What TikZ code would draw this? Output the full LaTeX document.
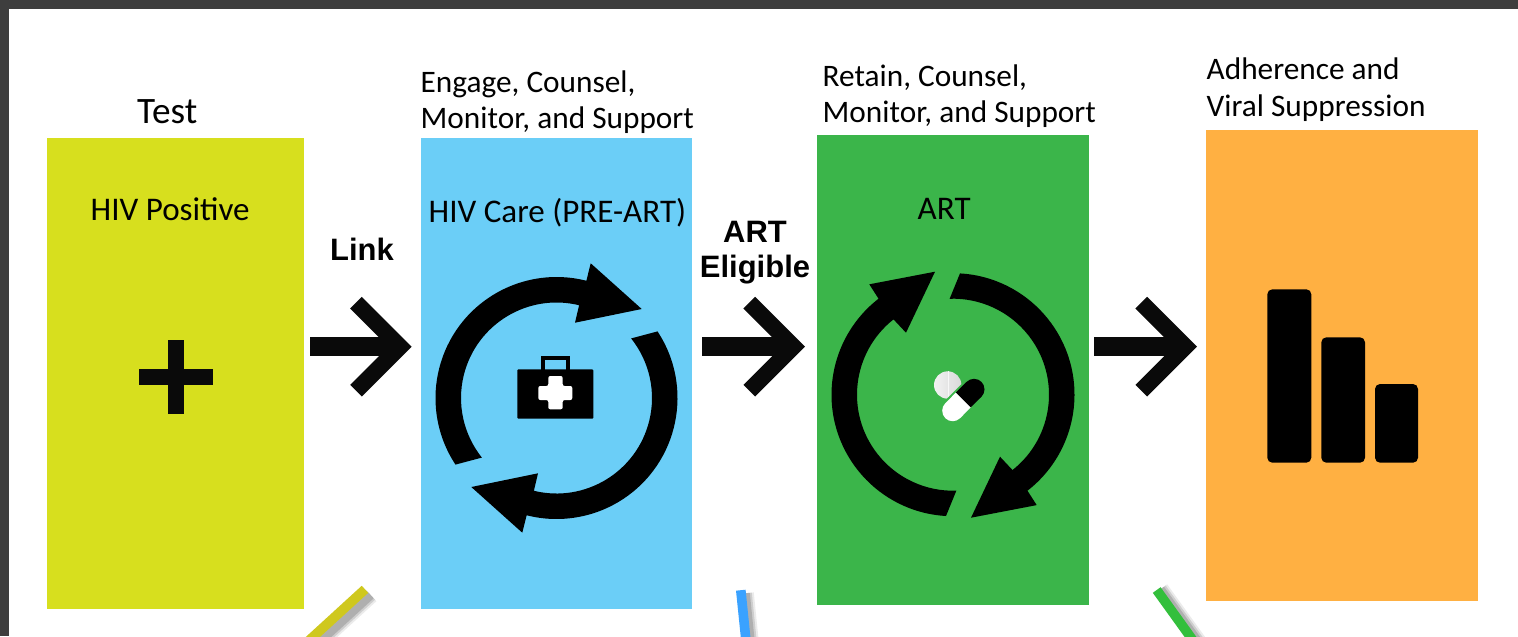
\documentclass[tikz,border=0pt]{standalone}
\usepackage{fontspec}
\setmainfont{Carlito}
\newfontfamily\boldfont{Liberation Sans}[BoldFont={Liberation Sans Bold}]
\usepackage{xcolor}
\usepackage{tikz}
\usetikzlibrary{arrows,arrows.meta,positioning,calc}

\definecolor{limebox}{HTML}{D7DF1E}
\definecolor{bluebox}{HTML}{6BCEF7}
\definecolor{greenbox}{HTML}{3BB54A}
\definecolor{orangebox}{HTML}{FFB042}
\definecolor{framegray}{HTML}{3E3E3E}
\definecolor{inkblack}{HTML}{0A0A0A}
\definecolor{stubyellow}{HTML}{CFC81E}
\definecolor{stubblue}{HTML}{3AA2FF}
\definecolor{stubgreen}{HTML}{33BF3C}

\tikzset{
    stagebox/.style={anchor=north west, inner sep=0, outer sep=0, minimum width=#1},
    title/.style={anchor=base west, inner sep=0, font=\fontsize{8.9}{10.2}\selectfont},
    boxname/.style={anchor=base west, inner sep=0, font=\fontsize{9.4}{10.2}\selectfont},
    steplabel/.style={align=center, inner sep=0, font=\boldfont\bfseries\fontsize{8.8}{10}\selectfont},
    linkarrow/.style={draw=inkblack, line width=.19cm,
        -{Straight Barb[line width=.165cm, length=.44cm, width=.88cm]}},
    stub/.style={line width=.096cm},
    careloop/.pic={
        \fill (213.4:121) arc[start angle=213.4, end angle=75.7, radius=121]
            -- (34.2,134.7) -- (85.2,89) -- (18.5,75.3)
            -- (76.3:95.5) arc[start angle=76.3, end angle=218.6, radius=95.5] -- cycle;
    },
    artloop/.pic={
        \fill (266.7:121.5) arc[start angle=266.7, end angle=127.8, radius=121.5]
            -- (-83.7,110.4) -- (-18,123) -- (-47,62)
            -- (128.3:96) arc[start angle=128.3, end angle=272, radius=96] -- cycle;
    }
}

\begin{document}
\begin{tikzpicture}[x=.01cm, y=-.01cm]
\useasboundingbox (0,0) rectangle (1518,636);
\clip (0,0) rectangle (1518,636);
\fill[framegray] (0,0) rectangle (1518,636);
\fill[white] (9,9) rectangle (1518,640);

% boxes
\node (test) [stagebox=2.57cm, minimum height=4.71cm, fill=limebox] at (47,138) {};
\node (care) [stagebox=2.71cm, minimum height=4.71cm, fill=bluebox] at (421,138) {};
\node (art) [stagebox=2.72cm, minimum height=4.70cm, fill=greenbox] at (817,135) {};
\node (supp) [stagebox=2.72cm, minimum height=4.71cm, fill=orangebox] at (1206,130) {};

% titles
\node (testtitle) [title, font=\fontsize{10.6}{12}\selectfont] at (136.5,123) {Test};
\node (caretop) [title] at (420,92) {Engage, Counsel,};
\node (carebot) [title] at (420,128) {Monitor, and Support};
\node (arttop) [title] at (822,86) {Retain, Counsel,};
\node (artbot) [title] at (822,122) {Monitor, and Support};
\node (supptop) [title] at (1206,79) {Adherence and};
\node (suppbot) [title] at (1206,116) {Viral Suppression};
\node (testname) [boxname] at (90,220) {HIV Positive};
\node (carename) [boxname] at (428,222) {HIV Care (PRE-ART)};
\node (artname) [boxname] at (917,219) {ART};

% links
\coordinate (row) at (0,346.7);
\node (link) [steplabel] at (362,249) {Link};
\node (elig) [steplabel] at (755,252.5) {ART\\Eligible};
\draw[linkarrow, shorten <=.06cm, shorten >=.093cm] (test.east |- row) -- (care.west |- row);
\draw[linkarrow, shorten <=.10cm, shorten >=.12cm] (care.east |- row) -- (art.west |- row);
\draw[linkarrow, shorten <=.05cm, shorten >=.09cm] (art.east |- row) -- (supp.west |- row);

% plus
\fill[inkblack] (139,369.3) rectangle (212.7,385);
\fill[inkblack] (168.3,340) rectangle (184,414);

% care loop and kit
\path (556.5,398) pic[yscale=-1] {careloop} pic[yscale=-1, rotate=180] {careloop};
\fill[rounded corners=.01cm] (517.3,369.3) rectangle (593.3,418.7);
\draw[line width=.045cm] (542.8,370) -- (542.8,358.2) -- (567.8,358.2) -- (567.8,370);
\fill[white, rounded corners=.02cm] (548.3,376) -- (562.7,376) -- (562.7,386) -- (572.3,386)
    -- (572.3,400) -- (562.7,400) -- (562.7,409.3) -- (548.3,409.3) -- (548.3,400)
    -- (538.3,400) -- (538.3,386) -- (548.3,386) -- cycle;

% art loop and pills
\path (953,394.7) pic[yscale=-1] {artloop} pic[yscale=-1, rotate=180] {artloop};
\shade[left color=white!95!black, right color=white!85!black] (947.7,385) circle (13.7);
\draw[white!97!black, line width=.004cm] (947.7,371.3) -- (947.7,398.7);
\draw[greenbox, line width=.25cm, line cap=round] (952.7,410.7) -- (974,389.3);
\draw[white, line width=.21cm, line cap=round] (952.7,410.7) -- (963.3,400);
\draw[black, line width=.21cm] (963.3,400) -- (974,389.3);
\fill[black] (974,389.3) circle (10.5);

% bars
\foreach \xa/\xb/\ytop in {1267.3/1311.3/289.3, 1321.3/1365/337.3, 1375/1418/384}
    \fill[rounded corners=.05cm] (\xa,\ytop) rectangle (\xb,462.7);

% stubs
\coordinate (ya) at (365,589.3);
\coordinate (yb) at (303,646);
\coordinate (ba) at (740.8,590.2);
\coordinate (bb) at (746.5,646);
\coordinate (ga) at (1156.7,590);
\coordinate (gb) at (1197,646);
\foreach \sa/\sb/\dx/\dy in {ya/yb/6/6, ba/bb/5/3, ga/gb/4/-1}{
    \draw[black, opacity=.08, line width=.16cm] ([shift={(\dx,\dy)}]\sa) -- ([shift={(\dx,\dy)}]\sb);
    \draw[black, opacity=.12, line width=.12cm] ([shift={(\dx,\dy)}]\sa) -- ([shift={(\dx,\dy)}]\sb);
    \draw[black, opacity=.15, line width=.08cm] ([shift={(\dx,\dy)}]\sa) -- ([shift={(\dx,\dy)}]\sb);
}
\draw[stub, stubyellow] (ya) -- (yb);
\draw[stub, stubblue] (ba) -- (bb);
\draw[stub, stubgreen] (ga) -- (gb);
\end{tikzpicture}
\end{document}
